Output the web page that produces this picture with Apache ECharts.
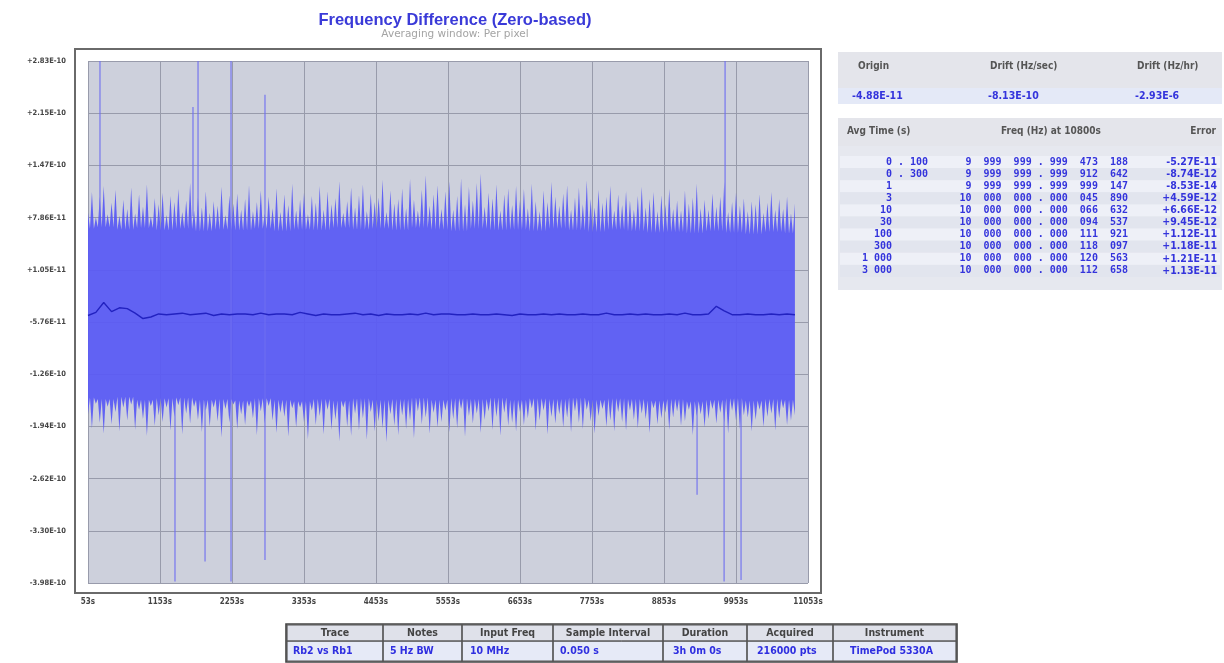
<!DOCTYPE html>
<html><head><meta charset="utf-8">
<script src="https://cdn.jsdelivr.net/npm/echarts/dist/echarts.min.js"></script>
<style>html,body{margin:0;padding:0;background:#fff}#c{width:1224px;height:663px}</style>
</head><body><div id="c"></div>
<script>
// ---------------- DATA ----------------
const xTickLabels = ['53s','1153s','2253s','3353s','4453s','5553s','6653s','7753s','8853s','9953s','11053s'];
const yTickLabels = ['-3.98E-10','-3.30E-10','-2.62E-10','-1.94E-10','-1.26E-10','-5.76E-11','+1.05E-11','+7.86E-11','+1.47E-10','+2.15E-10','+2.83E-10'];
// axis extents (time in s, frequency difference in units of 1E-11)
const timeMin = 53, timeMax = 11053;
const valMin = -39.8, valMax = 28.3;

// Solid core of the per-pixel envelope (units 1E-11), every 300 s from 53 s
const coreStart = 53, coreStep = 300;
const coreUpper = [6.4,6.6,6.3,6.5,6.2,6.4,6.1,6.3,6.2,6.4,6.1,6.3,6.2,6.5,6.3,6.4,6.2,6.5,6.3,6.1,
                   6.4,6.2,6.3,6.1,6.4,6.2,6.0,6.3,6.1,5.9,6.0,5.8,6.1,5.9,5.7,6.0,5.8];
const coreLower = [-15.6,-15.8,-15.5,-15.9,-15.7,-15.6,-15.9,-15.8,-16.0,-15.7,-15.9,-16.1,-15.8,-16.0,-15.7,-15.9,-15.8,-15.6,-15.9,-15.7,
                   -15.8,-15.6,-15.9,-15.7,-15.8,-15.6,-15.9,-15.7,-15.8,-16.0,-15.8,-16.1,-15.9,-15.7,-16.0,-15.8,-15.9];

// Per-pixel extreme tips (units 1E-11), every 60 s from 53 s
const tipStart = 53, tipStep = 60;
const tipUpper = [
 8.5,11.2,7.9,10.6,12.0,8.3,9.8,11.5,8.1,10.2,
 9.0,11.8,8.4,10.9,9.3,12.2,8.0,10.4,9.6,11.1,
 8.2,10.7,9.9,11.6,8.6,10.1,12.4,8.8,10.5,9.2,
 11.3,8.5,10.0,9.4,11.9,8.2,10.8,9.7,11.0,8.9,
 10.3,12.1,8.7,9.9,11.4,8.4,10.6,9.1,11.7,8.6,
 10.9,9.5,12.3,8.8,10.2,11.1,8.3,10.7,9.8,12.0,
 8.9,11.3,9.6,10.4,12.6,8.5,10.0,11.8,9.2,10.8,
 12.2,8.7,11.0,9.9,10.5,12.8,8.6,11.4,9.7,10.3,
 11.7,9.1,12.9,10.2,8.8,11.5,13.4,9.4,10.9,12.1,
 9.0,11.3,12.6,8.9,10.7,13.0,9.6,11.9,10.1,12.4,
 13.6,9.3,11.1,10.4,12.2,8.8,10.9,11.7,9.5,12.0,
 10.2,11.6,9.1,12.3,10.0,8.7,11.4,9.9,12.5,10.6,
 9.4,11.0,12.1,8.9,10.5,11.8,9.6,12.7,10.3,9.2,
 11.5,9.8,10.6,12.0,8.8,10.9,9.5,11.3,10.1,8.9,
 10.7,11.9,9.2,10.3,11.2,8.7,10.8,9.6,11.6,9.0,
 10.1,8.8,11.4,9.7,10.5,12.3,9.1,10.2,8.9,11.0,
 9.3,10.6,12.5,8.6,9.9,11.1,9.4,10.4,8.7,10.0,
 9.6,10.9,8.5,9.8,11.2,8.9,10.3,9.0,10.6,8.4,
 9.7
];
const tipLower = [
 -17.8,-19.6,-16.4,-18.9,-20.3,-16.8,-19.1,-17.5,-20.0,-16.9,
 -18.6,-16.5,-19.8,-17.2,-18.4,-20.6,-16.7,-19.3,-17.9,-18.8,
 -16.9,-19.9,-18.1,-16.6,-20.4,-17.7,-19.0,-16.8,-18.5,-20.1,
 -17.3,-19.4,-16.9,-18.7,-20.8,-17.1,-18.9,-16.5,-19.7,-17.8,
 -19.2,-16.8,-18.3,-20.5,-17.4,-19.0,-16.7,-18.6,-20.2,-17.6,
 -18.1,-20.7,-17.0,-19.5,-16.9,-18.8,-21.0,-17.3,-19.2,-18.0,
 -20.4,-17.2,-19.8,-18.5,-21.3,-16.9,-19.4,-20.6,-17.7,-19.9,
 -18.3,-21.1,-17.5,-20.0,-18.7,-19.6,-21.4,-17.8,-19.3,-20.5,
 -17.9,-19.7,-18.6,-20.9,-17.4,-19.1,-18.2,-20.3,-17.6,-19.5,
 -18.8,-17.3,-20.1,-18.4,-19.6,-17.1,-20.7,-18.0,-19.0,-17.7,
 -20.2,-18.5,-17.4,-19.8,-18.1,-20.6,-17.6,-19.3,-18.9,-20.0,
 -17.5,-19.2,-18.3,-17.0,-19.9,-18.6,-17.3,-20.4,-18.1,-19.0,
 -17.8,-19.5,-18.2,-20.1,-17.4,-18.9,-19.7,-17.2,-18.7,-20.3,
 -18.0,-17.1,-19.4,-18.6,-20.0,-17.5,-18.8,-19.9,-17.3,-18.5,
 -19.6,-17.7,-18.4,-20.2,-17.0,-19.1,-18.3,-17.6,-19.8,-18.2,
 -17.4,-19.3,-18.7,-17.2,-20.5,-18.0,-17.8,-19.5,-18.4,-17.1,
 -19.0,-17.6,-18.9,-20.3,-17.3,-18.6,-19.7,-17.9,-18.2,-20.0,
 -18.5,-17.2,-19.4,-18.1,-17.7,-19.9,-18.3,-17.0,-19.2,-18.6,
 -17.9
];
// Large isolated excursions (time s, low, high; units 1E-11)
const spikeTimes = [236, 1382, 1657, 1734, 1841, 2238, 2757, 9358, 9771, 9786, 10030];
const spikeLow   = [  8, -39.6, 8, 8, -37.0, -39.6, -36.8, -28.3, -39.6, 8, -39.4];
const spikeHigh  = [ 30, -16, 22.3, 30, -16, 30, 23.9, -16, -16, 30, -16];

// Smoothed mean trace (units 1E-11), every 120 s from 53 s
const meanStart = 53, meanStep = 120;
const meanValues = [
 -4.9,-4.5,-3.2,-4.4,-3.9,-4.0,-4.6,-5.3,-5.1,-4.7,
 -4.8,-4.7,-4.6,-4.8,-4.7,-4.6,-4.9,-4.7,-4.8,-4.7,
 -4.7,-4.8,-4.6,-4.8,-4.7,-4.7,-4.8,-4.5,-4.7,-4.9,
 -4.7,-4.8,-4.8,-4.7,-4.6,-4.8,-4.7,-4.9,-4.7,-4.8,
 -4.8,-4.7,-4.8,-4.6,-4.8,-4.7,-4.7,-4.8,-4.8,-4.7,
 -4.8,-4.8,-4.7,-4.8,-4.9,-4.7,-4.8,-4.8,-4.7,-4.8,
 -4.7,-4.8,-4.8,-4.7,-4.8,-4.8,-4.6,-4.8,-4.8,-4.7,
 -4.8,-4.7,-4.8,-4.8,-4.7,-4.8,-4.6,-4.8,-4.8,-4.7,
 -3.7,-4.3,-4.8,-4.8,-4.7,-4.8,-4.8,-4.7,-4.8,-4.7,
 -4.8
];

// Tables
const driftHeaders = ['Origin','Drift (Hz/sec)','Drift (Hz/hr)'];
const driftValues  = ['-4.88E-11','-8.13E-10','-2.93E-6'];
const avgHeaders = ['Avg Time (s)','Freq (Hz) at 10800s','Error'];
const avgTimes = ['0 . 100','0 . 300','1','3','10','30','100','300','1 000','3 000'];
const avgFreqs = [
 '9  999  999 . 999  473  188',
 '9  999  999 . 999  912  642',
 '9  999  999 . 999  999  147',
 '10  000  000 . 000  045  890',
 '10  000  000 . 000  066  632',
 '10  000  000 . 000  094  537',
 '10  000  000 . 000  111  921',
 '10  000  000 . 000  118  097',
 '10  000  000 . 000  120  563',
 '10  000  000 . 000  112  658'
];
const avgErrors = ['-5.27E-11','-8.74E-12','-8.53E-14','+4.59E-12','+6.66E-12','+9.45E-12','+1.12E-11','+1.18E-11','+1.21E-11','+1.13E-11'];
const infoHeaders = ['Trace','Notes','Input Freq','Sample Interval','Duration','Acquired','Instrument'];
const infoValues  = ['Rb2 vs Rb1','5 Hz BW','10 MHz','0.050 s','3h 0m 0s','216000 pts','TimePod 5330A'];

// ---------------- BUILD ----------------
const coreAt = t => Math.min(coreUpper.length - 1, Math.max(0, Math.round((t - coreStart) / coreStep)));
const tipData = tipUpper.map((u, i) => [tipStart + i * tipStep, tipLower[i], u]);
const spikeData = spikeTimes.map((t, i) => [t, spikeLow[i], spikeHigh[i]]);
const meanData = meanValues.map((v, i) => [meanStart + i * meanStep, v]);

const COND = "'DejaVu Sans Condensed','DejaVu Sans',sans-serif";
const G = [];
function rect(x, y, w, h, fill, stroke, lw) {
  G.push({type:'rect', silent:true, shape:{x, y, width:w, height:h},
    style:{fill: fill || 'transparent', stroke: stroke || null, lineWidth: lw || 0}});
}
function text(str, x, y, color, font, align) {
  G.push({type:'text', silent:true, x, y,
    style:{text:str, fill:color, font, textAlign: align || 'left', textVerticalAlign:'middle'}});
}
// chart frame
rect(75, 49, 746, 544, null, '#6a6a6a', 2);

const hdrFont = "bold 10px " + COND;
const valFont = "bold 10.5px " + COND;
const BLUE = '#3434dc';

// drift table
rect(838, 52, 384, 36, '#e4e5eb');
rect(838, 88, 384, 16, '#e4e9f7');
const driftHX = [858, 990, 1137];
const driftVX = [852, 988, 1135];
driftHeaders.forEach((h, i) => text(h, driftHX[i], 66, '#555', hdrFont));
driftValues.forEach((v, i) => text(v, driftVX[i], 96, BLUE, valFont));

// averaging table
rect(838, 118, 384, 28, '#e4e5eb');
rect(838, 146, 384, 144, '#e6e8ef');
text(avgHeaders[0], 847, 131, '#555', hdrFont);
text(avgHeaders[1], 1051, 131, '#555', hdrFont, 'center');
text(avgHeaders[2], 1216, 131, '#555', hdrFont, 'right');
const monoFont = "bold 10px 'DejaVu Sans Mono','Liberation Mono',monospace";
const rowY = i => 162 + i * 12.1;
avgTimes.forEach((t, i) => rect(840, rowY(i) - 6, 380, 12, i % 2 ? '#e2e5ee' : '#eef0f7'));
avgTimes.forEach((t, i) => {
  const y = rowY(i);
  const parts = t.split(' . ');
  if (parts.length === 2) {
    text(parts[0], 892, y, BLUE, monoFont, 'right');
    text(' . ' + parts[1], 892, y, BLUE, monoFont, 'left');
  } else {
    text(t, 892, y, BLUE, monoFont, 'right');
  }
  text(avgFreqs[i], 1128, y, BLUE, monoFont, 'right');
  text(avgErrors[i], 1217, y, BLUE, valFont, 'right');
});

// info table
const colX = [287, 383, 462, 553, 663, 747, 833, 956];
const infoVX = [293, 390, 470, 560, 673, 757, 850];
rect(287, 625, 669, 16, '#dfe1ea');
rect(287, 641, 669, 20, '#e6eaf7');
for (let i = 0; i < infoHeaders.length; i++) {
  const x0 = colX[i], x1 = colX[i + 1];
  rect(x0, 625, x1 - x0, 36, null, '#555', 1.2);
  text(infoHeaders[i], (x0 + x1) / 2, 633, '#444', "bold 10.5px " + COND, 'center');
  text(infoValues[i], infoVX[i], 651.5, '#2f2fe0', valFont, 'left');
}
rect(287, 641, 669, 0.1, null, '#555', 1);
rect(286, 624, 671, 38, null, '#444', 1.6);

const BAND = '#5a5af4';
const option = {
  animation: false,
  backgroundColor: '#ffffff',
  title: {
    text: 'Frequency Difference (Zero-based)',
    subtext: 'Averaging window: Per pixel',
    left: 450, top: 7, textAlign: 'center', itemGap: 0,
    textStyle: {color:'#3a3ad8', fontSize:16.5, fontWeight:'bold', fontFamily:"'Liberation Sans',Arial,sans-serif"},
    subtextStyle: {color:'#a4a4a4', fontSize:10.5, fontFamily:"'DejaVu Sans',sans-serif"}
  },
  grid: {left: 88, top: 61, width: 720, height: 522, show: true, backgroundColor: '#cdd0dc', borderWidth: 0, containLabel: false},
  xAxis: [
    {type:'value', min: timeMin, max: timeMax, show: false},
    {type:'value', min: 0, max: 10, interval: 1, position:'bottom',
     axisLine:{show:false}, axisTick:{show:false},
     splitLine:{show:true, lineStyle:{color:'#989bab', width:1}},
     axisLabel:{margin: 15, showMinLabel:true, showMaxLabel:true, color:'#444', fontSize:8, fontWeight:'bold', fontFamily: COND,
       formatter: v => xTickLabels[Math.round(v)]}}
  ],
  yAxis: [
    {type:'value', min: valMin, max: valMax, show: false},
    {type:'value', min: 0, max: 10, interval: 1, position:'left',
     axisLine:{show:false}, axisTick:{show:false},
     splitLine:{show:true, lineStyle:{color:'#989bab', width:1}},
     axisLabel:{margin: 22, showMinLabel:true, showMaxLabel:true, color:'#444', fontSize:7.5, fontWeight:'bold', fontFamily: COND,
       formatter: v => yTickLabels[Math.round(v)]}}
  ],
  graphic: G,
  series: [
    // per-pixel envelope: core level with spiky tips between samples
    {type:'custom', xAxisIndex:0, yAxisIndex:0, silent:true, clip:true,
     encode:{x:0, y:[1,2]}, data: tipData,
     renderItem: (params, api) => {
       if (params.dataIndex !== 0) return null;
       const n = tipData.length, pts = [];
       for (let i = 0; i < n; i++) {
         const t = tipData[i][0];
         pts.push(api.coord([t, tipData[i][2]]));
         if (i < n - 1) pts.push(api.coord([t + tipStep / 2, coreUpper[coreAt(t + tipStep / 2)]]));
       }
       for (let i = n - 1; i >= 0; i--) {
         const t = tipData[i][0];
         pts.push(api.coord([t, tipData[i][1]]));
         if (i > 0) pts.push(api.coord([t - tipStep / 2, coreLower[coreAt(t - tipStep / 2)]]));
       }
       return {type:'polygon', shape:{points: pts}, style:{fill: BAND, opacity: 0.94}};
     }},
    {type:'custom', xAxisIndex:0, yAxisIndex:0, silent:true, clip:true,
     encode:{x:0, y:[1,2]}, data: spikeData,
     renderItem: (params, api) => {
       const a = api.coord([api.value(0), api.value(1)]);
       const b = api.coord([api.value(0), api.value(2)]);
       return {type:'line', shape:{x1:a[0], y1:a[1], x2:b[0], y2:b[1]}, style:{stroke:'#6e6ef0', lineWidth:1.1}};
     }},
    {type:'line', xAxisIndex:0, yAxisIndex:0, data: meanData, showSymbol:false, silent:true,
     lineStyle:{color:'#2222c0', width:1.4}}
  ]
};
echarts.init(document.getElementById('c')).setOption(option);
</script>
</body></html>
